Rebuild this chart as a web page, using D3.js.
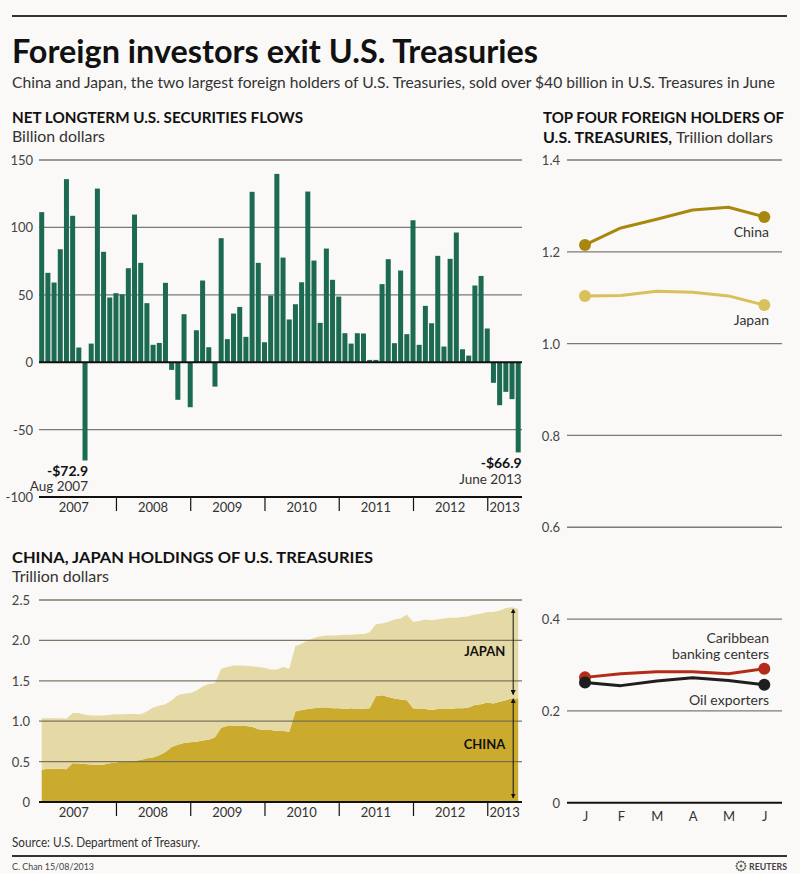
<!DOCTYPE html>
<html><head><meta charset="utf-8">
<script src="https://cdn.jsdelivr.net/npm/d3@7"></script>
<style>
html,body{margin:0;padding:0;background:#faf9f7;}
svg{display:block;font-family:Lato,"Open Sans",sans-serif;}
</style></head><body>
<svg id="c" width="800" height="874"></svg>
<script>
// ---------- DATA ----------
const flowYears = ["2007","2008","2009","2010","2011","2012","2013"];
// Net long-term U.S. securities flows, billion dollars, Jan 2007 - Jun 2013
const flows = [
 111.3, 66.3, 59.1, 83.8, 135.8, 108.6, 10.9, -72.9, 13.8, 128.8, 81.9, 48.0,
 51.2, 50.4, 69.7, 109.5, 73.7, 43.8, 12.9, 14.3, 58.9, -5.7, -27.9, 35.6,
 -33.4, 23.7, 60.6, 11.1, -18.1, 92.0, 17.1, 36.1, 41.0, 18.8, 126.4, 73.7,
 14.8, 49.5, 139.7, 77.6, 31.7, 43.0, 59.3, 126.6, 75.4, 29.2, 84.3, 61.1,
 48.7, 21.5, 13.8, 21.5, 21.3, 1.7, 1.7, 57.9, 76.4, 14.1, 68.0, 20.8,
 105.3, 12.9, 41.8, 28.9, 78.9, 11.6, 76.7, 96.2, 9.6, 4.9, 56.9, 64.0,
 25.0, -15.3, -31.9, -22.0, -27.4, -66.9];
const flowTicks = [150, 100, 50, 0, -50, -100];

// China / Japan holdings, trillion dollars, Jan 2007 - Jun 2013
const chinaHold = [
 0.40, 0.41, 0.41, 0.41, 0.405, 0.48, 0.475, 0.47, 0.465, 0.46, 0.465, 0.48,
 0.49, 0.50, 0.50, 0.51, 0.52, 0.54, 0.55, 0.58, 0.62, 0.68, 0.71, 0.73,
 0.74, 0.745, 0.76, 0.77, 0.80, 0.92, 0.94, 0.94, 0.94, 0.94, 0.93, 0.90,
 0.89, 0.89, 0.88, 0.88, 0.87, 1.12, 1.14, 1.15, 1.16, 1.17, 1.17, 1.16,
 1.16, 1.15, 1.16, 1.15, 1.155, 1.16, 1.31, 1.32, 1.30, 1.28, 1.27, 1.26,
 1.16, 1.15, 1.15, 1.14, 1.15, 1.15, 1.15, 1.16, 1.16, 1.17, 1.20, 1.21,
 1.23, 1.22, 1.24, 1.26, 1.28, 1.28];
const japanHold = [
 0.635, 0.625, 0.625, 0.625, 0.625, 0.62, 0.625, 0.61, 0.605, 0.61, 0.605, 0.60,
 0.595, 0.585, 0.59, 0.58, 0.565, 0.58, 0.62, 0.61, 0.59, 0.58, 0.61, 0.61,
 0.61, 0.635, 0.67, 0.69, 0.67, 0.73, 0.73, 0.75, 0.75, 0.745, 0.75, 0.77,
 0.77, 0.75, 0.76, 0.79, 0.78, 0.81, 0.82, 0.85, 0.87, 0.88, 0.89, 0.90,
 0.905, 0.92, 0.91, 0.925, 0.925, 0.94, 0.89, 0.89, 0.93, 0.98, 1.00, 1.06,
 1.07, 1.09, 1.11, 1.11, 1.11, 1.12, 1.13, 1.12, 1.13, 1.13, 1.12, 1.12,
 1.12, 1.13, 1.13, 1.14, 1.13, 1.11];
const holdTicks = [0, 0.5, 1.0, 1.5, 2.0, 2.5];

// Top four foreign holders, Jan - Jun 2013, trillion dollars
const holderMonths = ["J","F","M","A","M","J"];
const chinaTop     = [1.215, 1.252, 1.271, 1.291, 1.297, 1.276];
const japanTop     = [1.104, 1.105, 1.114, 1.112, 1.104, 1.084];
const caribbean    = [0.273, 0.281, 0.285, 0.285, 0.281, 0.292];
const oilExporters = [0.262, 0.255, 0.265, 0.272, 0.266, 0.257];
const topTicks = [0, 0.2, 0.4, 0.6, 0.8, 1.0, 1.2, 1.4];

// ---------- DRAW ----------
const svg = d3.select("#c");
svg.append("rect").attr("width",800).attr("height",874).attr("fill","#faf9f7");

function fit(sel, w){ sel.attr("textLength", w).attr("lengthAdjust","spacingAndGlyphs"); return sel; }
function txt(x,y,s,opt={}){
  const t = svg.append("text").attr("x",x).attr("y",y).text(s)
    .attr("font-size", opt.size||13).attr("fill", opt.fill||"#333")
    .attr("font-weight", opt.weight||"normal")
    .attr("text-anchor", opt.anchor||"start");
  if(opt.w) fit(t,opt.w);
  return t;
}

// header
svg.append("line").attr("x1",12).attr("x2",787).attr("y1",16).attr("y2",16).attr("stroke","#333").attr("stroke-width",2);
txt(12,63,"Foreign investors exit U.S. Treasuries",{size:32,weight:"bold",fill:"#111",w:526});
txt(12,88,"China and Japan, the two largest foreign holders of U.S. Treasuries, sold over $40 billion in U.S. Treasures in June",{size:16,fill:"#333",w:763});
txt(12,123,"NET LONGTERM U.S. SECURITIES FLOWS",{size:14.5,weight:"bold",fill:"#111",w:291});
txt(12,142,"Billion dollars",{size:15,fill:"#333",w:93});
txt(543,123,"TOP FOUR FOREIGN HOLDERS OF",{size:14.5,weight:"bold",fill:"#111",w:241});
txt(543,143,"U.S. TREASURIES,",{size:14.5,weight:"bold",fill:"#111",w:129});
txt(676,143,"Trillion dollars",{size:15,fill:"#333",w:97});
txt(12,563,"CHINA, JAPAN HOLDINGS OF U.S. TREASURIES",{size:14.5,weight:"bold",fill:"#111",w:361});
txt(12,582,"Trillion dollars",{size:15,fill:"#333",w:97});

// ---------- bar chart ----------
const xB = d3.scaleLinear().domain([0,77]).range([41.7,518.2]);
const yB = d3.scaleLinear().domain([-100,150]).range([497,160]);
const gB = svg.append("g");
const yAxB = d3.axisLeft(yB).tickValues(flowTicks).tickSize(0).tickPadding(0).tickFormat(d=>d);
const ya = gB.append("g").attr("transform","translate(33,0)").call(yAxB);
ya.select(".domain").remove();
ya.selectAll("text").attr("font-size",13).attr("fill","#444").attr("font-family","Lato,sans-serif").attr("dy","0.35em");
gB.selectAll("line.grid").data(flowTicks.filter(d=>d!==0 && d!==-100)).join("line")
  .attr("x1",39).attr("x2",522).attr("y1",d=>yB(d)).attr("y2",d=>yB(d))
  .attr("stroke","#7a7a7a").attr("stroke-width",1.3);
gB.selectAll("rect.bar").data(flows).join("rect")
  .attr("x",(d,i)=>xB(i)-2.5).attr("width",5)
  .attr("y",d=>yB(Math.max(0,d))).attr("height",d=>Math.abs(yB(d)-yB(0)))
  .attr("fill","#1c6a51");
gB.append("line").attr("x1",39).attr("x2",522).attr("y1",yB(0)).attr("y2",yB(0)).attr("stroke","#111").attr("stroke-width",2);
// bottom axis
const yearStarts = flowYears.map((d,i)=>i*12);
const yearLabelX = (sc,i)=> i===0 ? (sc(0)+sc(12))/2 - 5 : (sc(i*12)+Math.min(522,sc(i*12+12)))/2;
const xAxB = d3.axisBottom(xB).tickValues(yearStarts.slice(1)).tickSize(14).tickFormat("");
const xa = gB.append("g").attr("transform",`translate(0,${yB(-100)})`).call(xAxB);
xa.select(".domain").remove();
xa.selectAll("line").attr("stroke","#111").attr("stroke-width",1.2);
gB.append("line").attr("x1",39).attr("x2",522).attr("y1",yB(-100)).attr("y2",yB(-100)).attr("stroke","#111").attr("stroke-width",2);
gB.selectAll("text.yr").data(flowYears).join("text")
  .attr("x",(d,i)=>yearLabelX(xB,i))
  .attr("y",yB(-100)+15).attr("text-anchor","middle").attr("font-size",13).attr("fill","#333").text(d=>d);
// annotations
const iAug = 7, iJun = 77;
txt(xB(iAug)+3, yB(flows[iAug])+16, "-$72.9", {size:14,weight:"bold",anchor:"end",fill:"#111"});
txt(xB(iAug)+3, yB(flows[iAug])+31, "Aug 2007", {size:13.5,anchor:"end",fill:"#333"});
txt(xB(iJun)+3.5, yB(flows[iJun])+16, "-$66.9", {size:14,weight:"bold",anchor:"end",fill:"#111"});
txt(xB(iJun)+3.5, yB(flows[iJun])+32, "June 2013", {size:13.5,anchor:"end",fill:"#333"});

// ---------- area chart ----------
const xA = d3.scaleLinear().domain([0,77]).range([41.7,518.2]);
const yA = d3.scaleLinear().domain([0,2.5]).range([802,600]);
const gA = svg.append("g");
const stackData = chinaHold.map((c,i)=>({i, china:c, japan:japanHold[i]}));
const stacked = d3.stack().keys(["china","japan"])(stackData);
const areaColors = {china:"#cbab2d", japan:"#e5daa6"};
gA.selectAll("path.area").data(stacked).join("path")
  .attr("fill",d=>areaColors[d.key])
  .attr("d", d3.area().x(d=>xA(d.data.i)).y0(d=>yA(d[0])).y1(d=>yA(d[1])));
const yAxA = d3.axisLeft(yA).tickValues(holdTicks).tickSize(0).tickPadding(0).tickFormat(d=> d===0?"0":d3.format(".1f")(d));
const yaa = gA.append("g").attr("transform","translate(30,0)").call(yAxA);
yaa.select(".domain").remove();
yaa.selectAll("text").attr("font-size",13).attr("fill","#444").attr("font-family","Lato,sans-serif").attr("dy","0.35em");
gA.selectAll("line.grid").data(holdTicks.filter(d=>d>0)).join("line")
  .attr("x1",39).attr("x2",522).attr("y1",d=>yA(d)).attr("y2",d=>yA(d))
  .attr("stroke","#6f6a58").attr("stroke-width",1.3).attr("opacity",0.9);
const xAxA = d3.axisBottom(xA).tickValues(yearStarts.slice(1)).tickSize(14).tickFormat("");
const xaa = gA.append("g").attr("transform",`translate(0,${yA(0)})`).call(xAxA);
xaa.select(".domain").remove();
xaa.selectAll("line").attr("stroke","#111").attr("stroke-width",1.2);
gA.append("line").attr("x1",39).attr("x2",522).attr("y1",yA(0)).attr("y2",yA(0)).attr("stroke","#111").attr("stroke-width",2);
gA.selectAll("text.yr").data(flowYears).join("text")
  .attr("x",(d,i)=>yearLabelX(xA,i))
  .attr("y",yA(0)+15).attr("text-anchor","middle").attr("font-size",13).attr("fill","#333").text(d=>d);
// arrows
const defs = svg.append("defs");
["s","e"].forEach(k=>{
  defs.append("marker").attr("id","ar"+k).attr("viewBox","0 0 10 10").attr("refX",k==="e"?9:1).attr("refY",5)
   .attr("markerWidth",5).attr("markerHeight",5).attr("orient","auto-start-reverse")
   .append("path").attr("d","M0,0L10,5L0,10z").attr("fill","#111");
});
const last = chinaHold.length-1;
const ax = xA(last)-5;
const yTot = yA(chinaHold[last]+japanHold[last]), yCh = yA(chinaHold[last]), y0 = yA(0);
gA.append("line").attr("x1",ax).attr("x2",ax).attr("y1",yTot+4).attr("y2",yCh-4)
  .attr("stroke","#111").attr("stroke-width",1).attr("marker-start","url(#ars)").attr("marker-end","url(#are)");
gA.append("line").attr("x1",ax).attr("x2",ax).attr("y1",yCh+4).attr("y2",y0-4)
  .attr("stroke","#111").attr("stroke-width",1).attr("marker-start","url(#ars)").attr("marker-end","url(#are)");
txt(ax-8,(yTot+yCh)/2+2,"JAPAN",{size:13,weight:"bold",anchor:"end",fill:"#111"});
txt(ax-8,(yCh+y0)/2-1,"CHINA",{size:13,weight:"bold",anchor:"end",fill:"#111"});

// ---------- right line chart ----------
const xR = d3.scaleLinear().domain([0,5]).range([585,764.3]);
const yR = d3.scaleLinear().domain([0,1.4]).range([802.7,160]);
const gR = svg.append("g");
gR.selectAll("line.grid").data(topTicks.filter(d=>d>0)).join("line")
  .attr("x1",567).attr("x2",782).attr("y1",d=>yR(d)).attr("y2",d=>yR(d))
  .attr("stroke","#7a7a7a").attr("stroke-width",1.3);
gR.append("line").attr("x1",567).attr("x2",782).attr("y1",yR(0)).attr("y2",yR(0)).attr("stroke","#111").attr("stroke-width",2);
const yAxR = d3.axisLeft(yR).tickValues(topTicks).tickSize(0).tickPadding(0).tickFormat(d=> d===0?"0":d3.format(".1f")(d));
const yar = gR.append("g").attr("transform","translate(560,0)").call(yAxR);
yar.select(".domain").remove();
yar.selectAll("text").attr("font-size",13).attr("fill","#444").attr("font-family","Lato,sans-serif").attr("dy","0.35em");
const xAxR = d3.axisBottom(xR).tickValues(d3.range(6)).tickSize(0).tickPadding(0).tickFormat(i=>holderMonths[i]);
const xar = gR.append("g").attr("transform",`translate(0,${yR(0)+14})`).call(xAxR);
xar.select(".domain").remove();
xar.selectAll("text").attr("font-size",13).attr("fill","#333").attr("font-family","Lato,sans-serif").attr("dy","0.35em");
const series = [
  {v:chinaTop, c:"#a8870f"},
  {v:japanTop, c:"#d8c15a"},
  {v:caribbean, c:"#b22c18"},
  {v:oilExporters, c:"#1e1e1e"}
];
const ln = d3.line().x((d,i)=>xR(i)).y(d=>yR(d));
series.forEach(s=>{
  gR.append("path").attr("d",ln(s.v)).attr("fill","none").attr("stroke",s.c).attr("stroke-width",3).attr("stroke-linejoin","round");
  [0,5].forEach(i=>gR.append("circle").attr("cx",xR(i)).attr("cy",yR(s.v[i])).attr("r",6).attr("fill",s.c));
});
txt(769,yR(chinaTop[5])+20,"China",{size:14,anchor:"end",fill:"#333"});
txt(769,yR(japanTop[5])+20,"Japan",{size:14,anchor:"end",fill:"#333"});
txt(769,yR(caribbean[5])-26,"Caribbean",{size:14,anchor:"end",fill:"#333"});
txt(769,yR(caribbean[5])-10,"banking centers",{size:14,anchor:"end",fill:"#333"});
txt(769,yR(oilExporters[5])+20,"Oil exporters",{size:14,anchor:"end",fill:"#333"});

// ---------- footer ----------
txt(12,847,"Source: U.S. Department of Treasury.",{size:12.5,fill:"#333",w:188});
svg.append("line").attr("x1",12).attr("x2",787).attr("y1",856).attr("y2",856).attr("stroke","#333").attr("stroke-width",2);
txt(12,870,"C. Chan  15/08/2013",{size:10,fill:"#444",w:82});
const lg = svg.append("g").attr("transform","translate(741,866)");
d3.range(12).forEach(k=>{
  const a = k/12*2*Math.PI;
  lg.append("circle").attr("cx",4.5*Math.cos(a)).attr("cy",4.5*Math.sin(a)).attr("r",1.1).attr("fill","#666");
});
lg.append("circle").attr("r",1.5).attr("fill","#666");
txt(749,870,"REUTERS",{size:9.5,weight:"bold",fill:"#444",w:38});
</script>
</body></html>
